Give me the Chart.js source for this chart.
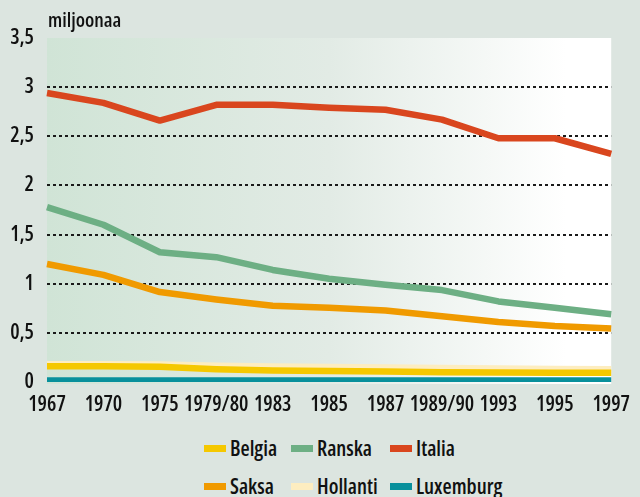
<!DOCTYPE html>
<html>
<head>
<meta charset="utf-8">
<script src="https://cdn.jsdelivr.net/npm/chart.js@4"></script>
<style>
  html, body { margin: 0; padding: 0; background: #dce5e0; }
  body { width: 640px; height: 497px; position: relative; overflow: hidden;
         font-family: "Open Sans", sans-serif; font-stretch: 75%; font-weight: 600; color: #111; }
  #wrap { position: absolute; left: 0; top: 0; width: 640px; height: 430px; }
  #unit { position: absolute; left: 48px; top: 8px; font-size: 20px; line-height: 24px; }
  #legend { position: absolute; left: 204px; top: 436px; display: grid;
            grid-template-columns: 87px 99px 120px; row-gap: 14px; }
  #legend div { display: flex; align-items: center; font-size: 21px; line-height: 24px; }
  #legend i { display: inline-block; width: 22px; height: 7px; margin-right: 4px; }
</style>
</head>
<body>
<div id="wrap"><canvas id="c" width="640" height="430"></canvas></div>
<div id="unit">miljoonaa</div>
<div id="legend"></div>
<script>
// vuodet ja sarjat, miljoonaa
const years     = ["1967", "1970", "1975", "1979/80", "1983", "1985", "1987", "1989/90", "1993", "1995", "1997"];
const belgia    = [0.16, 0.16, 0.155, 0.13, 0.117, 0.111, 0.106, 0.1, 0.096, 0.094, 0.094];
const ranska    = [1.78, 1.60, 1.32, 1.27, 1.14, 1.05, 0.99, 0.935, 0.82, 0.755, 0.69];
const italia    = [2.94, 2.84, 2.66, 2.82, 2.82, 2.79, 2.77, 2.67, 2.48, 2.48, 2.32];
const saksa     = [1.20, 1.09, 0.915, 0.84, 0.775, 0.755, 0.727, 0.67, 0.61, 0.57, 0.545];
const hollanti  = [0.18, 0.18, 0.178, 0.165, 0.157, 0.152, 0.148, 0.143, 0.138, 0.133, 0.13];
const luxemburg = [0.015, 0.015, 0.015, 0.015, 0.015, 0.015, 0.015, 0.015, 0.015, 0.015, 0.015];

const FONT = "'Open Sans', sans-serif";
const tickFont = { family: FONT, size: 21, weight: "600 condensed" };

const series = [
  { label: "Belgia",    data: belgia,    color: "#f5c800" },
  { label: "Ranska",    data: ranska,    color: "#6daf84" },
  { label: "Italia",    data: italia,    color: "#d9461e" },
  { label: "Saksa",     data: saksa,     color: "#f09a00" },
  { label: "Hollanti",  data: hollanti,  color: "#fdedc0" },
  { label: "Luxemburg", data: luxemburg, color: "#08909c" },
];

const plotBg = {
  id: "plotBg",
  beforeDraw(chart) {
    const { ctx, chartArea: a } = chart;
    const g = ctx.createLinearGradient(a.left, 0, a.right, 0);
    g.addColorStop(0, "#d0e4d6");
    g.addColorStop(0.5, "#e2ebe5");
    g.addColorStop(0.92, "#ffffff");
    g.addColorStop(1, "#ffffff");
    ctx.save();
    ctx.fillStyle = g;
    ctx.fillRect(a.left, a.top, a.right - a.left, a.bottom - a.top + 2);
    ctx.restore();
  }
};

new Chart(document.getElementById("c"), {
  type: "line",
  data: {
    labels: years,
    datasets: series.map(s => ({
      label: s.label, data: s.data, borderColor: s.color, backgroundColor: s.color,
      borderWidth: 6.5, pointRadius: 0, tension: 0, borderJoinStyle: "round", fill: false
    }))
  },
  options: {
    responsive: false, animation: false,
    layout: { padding: { top: 38, right: 18, left: 0, bottom: 0 } },
    plugins: { legend: { display: false }, tooltip: { enabled: false } },
    scales: {
      x: {
        offset: false,
        grid: { display: false, drawTicks: false },
        border: { display: false },
        ticks: { color: "#111", font: tickFont, padding: 10, maxRotation: 0, autoSkip: false },
        afterFit: s => { s.height = 48; }
      },
      y: {
        min: 0, max: 3.5,
        grid: {
          drawTicks: false, lineWidth: 2,
          color: c => (c.tick && (c.tick.value === 3.5 || c.tick.value === 0)) ? "rgba(0,0,0,0)" : "#1a1a1a"
        },
        border: { display: false, dash: [3, 3] },
        ticks: {
          stepSize: 0.5, color: "#111", padding: 13, font: tickFont,
          callback: v => String(v).replace(".", ",")
        },
        afterFit: s => { s.width = 47; }
      }
    }
  },
  plugins: [plotBg]
});

const lg = document.getElementById("legend");
series.forEach(s => {
  const d = document.createElement("div");
  d.innerHTML = '<i style="background:' + s.color + '"></i>' + s.label;
  lg.appendChild(d);
});
</script>
</body>
</html>
